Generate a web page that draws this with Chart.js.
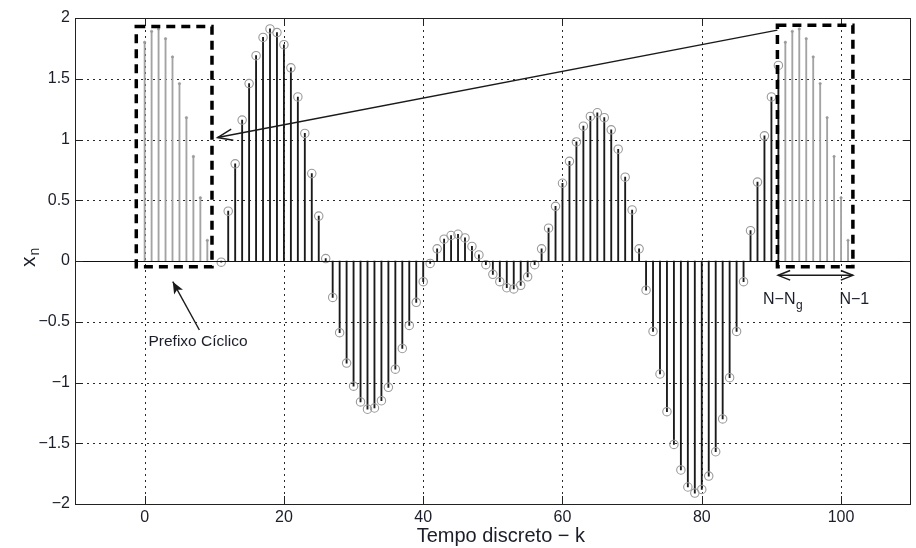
<!DOCTYPE html>
<html>
<head>
<meta charset="utf-8">
<script src="https://cdn.jsdelivr.net/npm/chart.js@4/dist/chart.umd.min.js"></script>
<style>
html,body{margin:0;padding:0;background:#fff;}
#wrap{width:916px;height:548px;position:relative;}
</style>
</head>
<body>
<div id="wrap"><canvas id="c" width="916" height="548"></canvas></div>
<script>
// ---------------- data ----------------
const prefixIdx = [0, 1, 2, 3, 4, 5, 6, 7, 8, 9];
const tailIdx = [92, 93, 94, 95, 96, 97, 98, 99, 100, 101];
const cyclicVals = [1.80, 1.89, 1.91, 1.83, 1.68, 1.46, 1.18, 0.86, 0.52, 0.17];

const symbolIdx = [11, 12, 13, 14, 15, 16, 17, 18, 19, 20,
  21, 22, 23, 24, 25, 26, 27, 28, 29, 30,
  31, 32, 33, 34, 35, 36, 37, 38, 39, 40,
  41, 42, 43, 44, 45, 46, 47, 48, 49, 50,
  51, 52, 53, 54, 55, 56, 57, 58, 59, 60,
  61, 62, 63, 64, 65, 66, 67, 68, 69, 70,
  71, 72, 73, 74, 75, 76, 77, 78, 79, 80,
  81, 82, 83, 84, 85, 86, 87, 88, 89, 90, 91];
const symbolVals = [-0.01, 0.41, 0.80, 1.16, 1.46, 1.69, 1.84, 1.91, 1.88, 1.78,
  1.59, 1.35, 1.05, 0.72, 0.37, 0.02, -0.30, -0.59, -0.84, -1.03,
  -1.16, -1.22, -1.21, -1.15, -1.04, -0.89, -0.72, -0.53, -0.34, -0.17,
  -0.02, 0.10, 0.18, 0.21, 0.22, 0.19, 0.12, 0.05, -0.03, -0.11,
  -0.17, -0.22, -0.23, -0.20, -0.13, -0.03, 0.10, 0.27, 0.45, 0.64,
  0.82, 0.98, 1.11, 1.19, 1.22, 1.18, 1.08, 0.92, 0.69, 0.42,
  0.10, -0.24, -0.58, -0.93, -1.24, -1.51, -1.72, -1.86, -1.91, -1.88,
  -1.77, -1.57, -1.30, -0.96, -0.58, -0.17, 0.25, 0.65, 1.03, 1.35, 1.61];

const xTicks = [0, 20, 40, 60, 80, 100];
const xTickLabels = ['0', '20', '40', '60', '80', '100'];
const yTicks = [-2, -1.5, -1, -0.5, 0, 0.5, 1, 1.5, 2];
const yTickLabels = ['\u22122', '\u22121.5', '\u22121', '\u22120.5', '0', '0.5', '1', '1.5', '2'];

const xTitle = 'Tempo discreto \u2212 k';
const yTitleMain = 'x';
const yTitleSub = 'n';

// annotation anchors (data coordinates)
const prefixBox = {x0: -1.2, x1: 9.67, y0: -0.047, y1: 1.93};
const tailBox = {x0: 90.86, x1: 101.7, y0: -0.047, y1: 1.94};
const copyArrow = {from: [90.86, 1.90], to: [10.47, 1.016]};
const spanArrow = {from: [90.96, -0.118], to: [101.7, -0.118]};
const prefixPointer = {from: [7.86, -0.568], to: [4.04, -0.17]};
const prefixLabel = {x: 0.55, y: -0.70, text: 'Prefixo C\u00edclico'};
const labelStart = {x: 88.8, y: -0.354, text: 'N\u2212N', sub: 'g'};
const labelEnd = {x: 99.76, y: -0.354, text: 'N\u22121'};

// ---------------- chart ----------------
const FONT = "'Liberation Sans', Arial, Helvetica, sans-serif";
const TEXT = '#1b1d28';

const stemData = symbolIdx.map((k, i) => ({x: k, y: symbolVals[i]}));
const greyData = prefixIdx.map((k, i) => ({x: k, y: cyclicVals[i]}))
  .concat(tailIdx.map((k, i) => ({x: k, y: cyclicVals[i]})));

function line(ctx, x0, y0, x1, y1) {
  ctx.beginPath(); ctx.moveTo(x0, y0); ctx.lineTo(x1, y1); ctx.stroke();
}
function openHead(ctx, tx, ty, fx, fy, len, ang) {
  const a = Math.atan2(fy - ty, fx - tx);
  ctx.beginPath();
  ctx.moveTo(tx + len * Math.cos(a + ang), ty + len * Math.sin(a + ang));
  ctx.lineTo(tx, ty);
  ctx.lineTo(tx + len * Math.cos(a - ang), ty + len * Math.sin(a - ang));
  ctx.stroke();
}

const overlay = {
  id: 'overlay',
  beforeDatasetsDraw(chart) {
    const {ctx, chartArea: a, scales: {x, y}} = chart;
    ctx.save();
    ctx.strokeStyle = '#2a2a2a';
    ctx.lineWidth = 1;
    ctx.setLineDash([2, 4]);
    xTicks.forEach(v => {
      if (v <= x.min || v >= x.max) return;
      const px = Math.round(x.getPixelForValue(v)) + 0.5;
      line(ctx, px, a.top, px, a.bottom);
    });
    yTicks.forEach(v => {
      if (v === 0 || v <= y.min || v >= y.max) return;
      const py = Math.round(y.getPixelForValue(v)) + 0.5;
      line(ctx, a.left, py, a.right, py);
    });
    ctx.restore();
  },
  afterDatasetsDraw(chart) {
    const {ctx, chartArea: a, scales: {x, y}} = chart;
    const X = v => x.getPixelForValue(v), Y = v => y.getPixelForValue(v);
    ctx.save();
    // zero line
    ctx.strokeStyle = '#111';
    ctx.lineWidth = 1.2;
    const y0 = Math.round(Y(0)) + 0.5;
    line(ctx, a.left, y0, a.right, y0);
    // frame
    ctx.lineWidth = 1;
    ctx.strokeStyle = '#222';
    ctx.strokeRect(Math.round(a.left) + 0.5, Math.round(a.top) + 0.5,
      Math.round(a.right - a.left) - 1, Math.round(a.bottom - a.top));
    // inside ticks
    const TL = 8;
    xTicks.forEach(v => {
      const px = Math.round(X(v)) + 0.5;
      line(ctx, px, a.bottom, px, a.bottom - TL);
      line(ctx, px, a.top, px, a.top + TL);
    });
    yTicks.forEach(v => {
      const py = Math.round(Y(v)) + 0.5;
      line(ctx, a.left, py, a.left + TL, py);
      line(ctx, a.right, py, a.right - TL, py);
    });

    // dashed boxes
    ctx.strokeStyle = '#000';
    ctx.lineWidth = 3.5;
    ctx.setLineDash([9, 6]);
    [prefixBox, tailBox].forEach(b => {
      ctx.strokeRect(X(b.x0), Y(b.y1), X(b.x1) - X(b.x0), Y(b.y0) - Y(b.y1));
    });
    ctx.setLineDash([]);

    // long copy arrow
    ctx.strokeStyle = '#1a1a1a';
    ctx.lineWidth = 1.4;
    const cf = [X(copyArrow.from[0]), Y(copyArrow.from[1])];
    const ct = [X(copyArrow.to[0]), Y(copyArrow.to[1])];
    line(ctx, cf[0], cf[1], ct[0], ct[1]);
    openHead(ctx, ct[0], ct[1], cf[0], cf[1], 16, 0.36);

    // span arrow (both ends)
    ctx.lineWidth = 1.5;
    const sf = [X(spanArrow.from[0]), Y(spanArrow.from[1])];
    const st = [X(spanArrow.to[0]), Y(spanArrow.to[1])];
    line(ctx, sf[0], sf[1], st[0], st[1]);
    openHead(ctx, sf[0], sf[1], st[0], st[1], 13, 0.38);
    openHead(ctx, st[0], st[1], sf[0], sf[1], 13, 0.38);

    // pointer arrow to prefix box
    ctx.lineWidth = 1.4;
    const pf = [X(prefixPointer.from[0]), Y(prefixPointer.from[1])];
    const pt = [X(prefixPointer.to[0]), Y(prefixPointer.to[1])];
    line(ctx, pf[0], pf[1], pt[0], pt[1]);
    {
      const ang = Math.atan2(pf[1] - pt[1], pf[0] - pt[0]);
      const len = 13, w = 0.4;
      ctx.fillStyle = '#1a1a1a';
      ctx.beginPath();
      ctx.moveTo(pt[0], pt[1]);
      ctx.lineTo(pt[0] + len * Math.cos(ang + w), pt[1] + len * Math.sin(ang + w));
      ctx.lineTo(pt[0] + len * 0.7 * Math.cos(ang), pt[1] + len * 0.7 * Math.sin(ang));
      ctx.lineTo(pt[0] + len * Math.cos(ang - w), pt[1] + len * Math.sin(ang - w));
      ctx.closePath();
      ctx.fill();
    }

    // labels
    ctx.fillStyle = TEXT;
    ctx.textBaseline = 'alphabetic';
    ctx.textAlign = 'left';
    ctx.font = '15.5px ' + FONT;
    ctx.fillText(prefixLabel.text, X(prefixLabel.x), Y(prefixLabel.y));
    ctx.font = '16px ' + FONT;
    const lx = X(labelStart.x), ly = Y(labelStart.y);
    ctx.fillText(labelStart.text, lx, ly);
    const w1 = ctx.measureText(labelStart.text).width;
    ctx.font = '12px ' + FONT;
    ctx.fillText(labelStart.sub, lx + w1 + 0.5, ly + 5);
    ctx.font = '16px ' + FONT;
    ctx.fillText(labelEnd.text, X(labelEnd.x), Y(labelEnd.y));

    // x title
    ctx.font = '20px ' + FONT;
    ctx.textAlign = 'center';
    ctx.textBaseline = 'middle';
    ctx.fillText(xTitle, (a.left + a.right) / 2 + 8, 536);

    // y title (rotated x_n)
    ctx.textAlign = 'left';
    ctx.textBaseline = 'alphabetic';
    ctx.translate(27, Y(0));
    ctx.rotate(-Math.PI / 2);
    ctx.font = '21px ' + FONT;
    ctx.fillText(yTitleMain, -6, 8);
    const wx = ctx.measureText(yTitleMain).width;
    ctx.font = '14px ' + FONT;
    ctx.fillText(yTitleSub, -6 + wx + 1, 12);
    ctx.restore();
  }
};

new Chart(document.getElementById('c'), {
  type: 'bar',
  data: {
    datasets: [
      {type: 'scatter', data: stemData, pointRadius: 4.2, pointHoverRadius: 4.2,
        pointBorderColor: '#9a9a9a', pointBackgroundColor: 'rgba(255,255,255,0)', pointBorderWidth: 1.1},
      {type: 'scatter', data: greyData, pointRadius: 1.2, pointHoverRadius: 1.2,
        pointBorderColor: '#9a9a9a', pointBackgroundColor: '#9a9a9a', pointBorderWidth: 0.6},
      {type: 'bar', data: stemData, backgroundColor: '#1a1a1a', borderWidth: 0, barThickness: 1.2, grouped: false},
      {type: 'bar', data: greyData, backgroundColor: '#a3a3a3', borderWidth: 0, barThickness: 1.2, grouped: false}
    ]
  },
  options: {
    responsive: false,
    animation: false,
    events: [],
    layout: {padding: {top: 18, right: 1, left: 0, bottom: 0}},
    plugins: {legend: {display: false}, tooltip: {enabled: false}},
    scales: {
      x: {
        type: 'linear', min: -10, max: 110, offset: false,
        grid: {display: false, drawTicks: false},
        border: {display: false},
        afterBuildTicks: s => { s.ticks = xTicks.map(v => ({value: v})); },
        afterFit: s => { s.height = 44; },
        ticks: {font: {family: FONT, size: 16}, color: TEXT, padding: 4, maxRotation: 0, autoSkip: false,
          callback: (v, i) => xTickLabels[i]}
      },
      y: {
        type: 'linear', min: -2, max: 2,
        grid: {display: false, drawTicks: false},
        border: {display: false},
        afterBuildTicks: s => { s.ticks = yTicks.map(v => ({value: v})); },
        afterFit: s => { s.width = 75; },
        ticks: {font: {family: FONT, size: 16}, color: TEXT, padding: 5, autoSkip: false,
          callback: (v, i) => yTickLabels[i]}
      }
    }
  },
  plugins: [overlay]
});
</script>
</body>
</html>
